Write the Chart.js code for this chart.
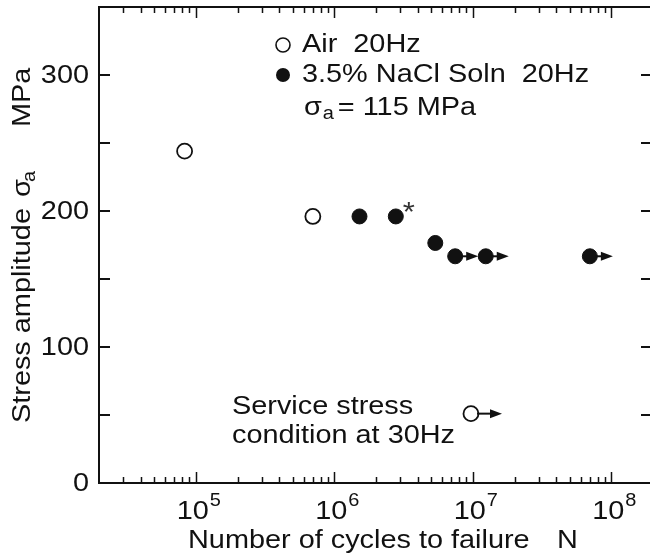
<!DOCTYPE html>
<html>
<head>
<meta charset="utf-8">
<script src="https://cdn.jsdelivr.net/npm/chart.js@4.4.1/dist/chart.umd.min.js"></script>
<style>
  html, body { margin: 0; padding: 0; background: #fff; overflow: hidden; }
  #wrap { width: 654px; height: 557px; }
</style>
</head>
<body>
<div id="wrap"><canvas id="chart" width="654" height="557"></canvas></div>
<script>
// ===== Data =====
const airCycles = [8.3e4, 7.0e5];
const airStress = [244, 196];

const naclCycles = [1.52e6, 2.78e6, 5.36e6, 7.46e6, 1.24e7, 7.0e7];
const naclStress = [196, 196, 176.5, 166.7, 166.7, 166.7];
const naclRunout = [false, false, false, true, true, true];

const serviceCycles = [9.7e6];
const serviceStress = [51];
const serviceRunout = [true];

const xDecades = [1e5, 1e6, 1e7, 1e8];
const xExponents = ["5", "6", "7", "8"];
const yLabelValues = [0, 100, 200, 300];

const FONT = "'Liberation Sans', Arial, Helvetica, sans-serif";
const INK = "#111";
const SX = 1.11; // the original lettering is a bit wider than Arial

function pts(xs, ys) {
  return xs.map((x, i) => ({ x, y: ys[i] }));
}

// draw text stretched horizontally by SX, anchored at (x, y)
function txt(ctx, str, x, y, size, align = "left", base = "alphabetic") {
  ctx.save();
  ctx.translate(x, y);
  ctx.scale(SX, 1);
  ctx.font = size + "px " + FONT;
  ctx.textAlign = align;
  ctx.textBaseline = base;
  ctx.fillText(str, 0, 0);
  ctx.restore();
}
function wid(ctx, str, size) {
  ctx.font = size + "px " + FONT;
  return ctx.measureText(str).width * SX;
}

// ===== Decorations: frame, inward ticks, labels, legend, notes =====
const framePlugin = {
  id: "frame",
  afterDatasetsDraw(chart) {
    const { ctx, chartArea: a, scales } = chart;
    const xs = scales.x, ys = scales.y;
    ctx.save();

    // run-out arrows
    const arrowSets = [
      { meta: chart.getDatasetMeta(1), flags: naclRunout, len: 23 },
      { meta: chart.getDatasetMeta(2), flags: serviceRunout, len: 31 },
    ];
    ctx.strokeStyle = INK;
    ctx.fillStyle = INK;
    ctx.lineWidth = 2;
    arrowSets.forEach((s) => {
      s.meta.data.forEach((el, i) => {
        if (!s.flags[i]) return;
        const tip = el.x + s.len;
        ctx.beginPath();
        ctx.moveTo(el.x + 6, el.y);
        ctx.lineTo(tip - 10, el.y);
        ctx.stroke();
        ctx.beginPath();
        ctx.moveTo(tip, el.y);
        ctx.lineTo(tip - 12, el.y - 4.5);
        ctx.lineTo(tip - 12, el.y + 4.5);
        ctx.closePath();
        ctx.fill();
      });
    });

    // asterisk on the second NaCl point
    const star = chart.getDatasetMeta(1).data[1];
    ctx.fillStyle = "#333";
    txt(ctx, "*", star.x + 7, star.y + 5, 28);

    // frame
    ctx.strokeStyle = INK;
    ctx.lineWidth = 2;
    ctx.beginPath();
    ctx.moveTo(a.left, a.top);
    ctx.lineTo(a.left, a.bottom);
    ctx.lineTo(a.right, a.bottom);
    ctx.lineTo(a.right, a.top);
    ctx.closePath();
    ctx.stroke();

    // x ticks (log, inward, top and bottom)
    ctx.lineWidth = 1.5;
    for (let d = 4; d <= 8; d++) {
      for (let m = 1; m <= 9; m++) {
        const v = m * Math.pow(10, d);
        if (v <= xs.min || v >= xs.max) continue;
        const px = Math.round(xs.getPixelForValue(v)) + 0.5;
        const len = m === 1 ? 11 : 6;
        ctx.beginPath();
        ctx.moveTo(px, a.bottom);
        ctx.lineTo(px, a.bottom - len);
        ctx.moveTo(px, a.top);
        ctx.lineTo(px, a.top + len);
        ctx.stroke();
      }
    }
    // y ticks (inward, left and right)
    ctx.lineWidth = 2;
    for (let v = 50; v < ys.max; v += 50) {
      const py = Math.round(ys.getPixelForValue(v));
      ctx.beginPath();
      ctx.moveTo(a.left, py);
      ctx.lineTo(a.left + 11, py);
      ctx.moveTo(a.right, py);
      ctx.lineTo(a.right - 12, py);
      ctx.stroke();
    }

    ctx.fillStyle = INK;
    // y labels
    yLabelValues.forEach((v) => {
      txt(ctx, String(v), a.left - 10, ys.getPixelForValue(v) + 1, 26, "right", "middle");
    });

    // x labels 10^n
    xDecades.forEach((v, i) => {
      const px = xs.getPixelForValue(v);
      const w10 = wid(ctx, "10", 26);
      const we = wid(ctx, xExponents[i], 18);
      const x0 = px + 3 - (w10 + we + 1) / 2;
      txt(ctx, "10", x0, 519, 26);
      txt(ctx, xExponents[i], x0 + w10 + 1, 506, 18);
    });

    // x title
    txt(ctx, "Number of cycles to failure", 188, 548, 26);
    txt(ctx, "N", 557, 548, 26);

    // y title (rotated)
    ctx.save();
    ctx.translate(30, 0);
    ctx.rotate(-Math.PI / 2);
    txt(ctx, "Stress amplitude", -423, 0, 26);
    txt(ctx, "\u03c3", -197, 0, 26);
    txt(ctx, "a", -182, 5, 18);
    txt(ctx, "MPa", -127, 0, 26);
    ctx.restore();

    // legend
    ctx.lineWidth = 1.6;
    ctx.strokeStyle = INK;
    ctx.beginPath();
    ctx.arc(283, 45, 7, 0, Math.PI * 2);
    ctx.fillStyle = "#fff";
    ctx.fill();
    ctx.stroke();
    ctx.fillStyle = INK;
    ctx.beginPath();
    ctx.arc(283, 75, 7, 0, Math.PI * 2);
    ctx.fill();

    txt(ctx, "Air  20Hz", 302, 45, 26, "left", "middle");
    txt(ctx, "3.5% NaCl Soln  20Hz", 302, 75, 26, "left", "middle");
    const ws = wid(ctx, "\u03c3", 26);
    txt(ctx, "\u03c3", 304, 108, 26, "left", "middle");
    txt(ctx, "a", 304 + ws + 1, 114, 18, "left", "middle");
    txt(ctx, "= 115 MPa", 304 + ws + 16, 108, 26, "left", "middle");

    // service note
    txt(ctx, "Service stress", 232, 407, 26, "left", "middle");
    txt(ctx, "condition at 30Hz", 232, 436, 26, "left", "middle");

    ctx.restore();
  },
};

new Chart(document.getElementById("chart"), {
  type: "scatter",
  data: {
    datasets: [
      {
        label: "Air 20Hz",
        data: pts(airCycles, airStress),
        pointRadius: 7.5,
        pointBackgroundColor: "#fff",
        pointBorderColor: INK,
        pointBorderWidth: 1.8,
      },
      {
        label: "3.5% NaCl Soln 20Hz",
        data: pts(naclCycles, naclStress),
        pointRadius: 7.5,
        pointBackgroundColor: INK,
        pointBorderColor: INK,
        pointBorderWidth: 1,
      },
      {
        label: "Service stress condition at 30Hz",
        data: pts(serviceCycles, serviceStress),
        pointRadius: 7.5,
        pointBackgroundColor: "#fff",
        pointBorderColor: INK,
        pointBorderWidth: 1.8,
      },
    ],
  },
  options: {
    responsive: false,
    animation: false,
    events: [],
    layout: { autoPadding: false, padding: { left: 0, top: 7, right: 1, bottom: 0 } },
    plugins: { legend: { display: false }, tooltip: { enabled: false } },
    scales: {
      x: {
        type: "logarithmic",
        min: 2e4,
        max: 2e8,
        grid: { display: false },
        border: { display: false },
        ticks: { display: false },
        afterFit: (s) => { s.height = 74; s.paddingLeft = 0; s.paddingRight = 0; },
      },
      y: {
        min: 0,
        max: 350,
        grid: { display: false },
        border: { display: false },
        ticks: { display: false, stepSize: 50 },
        afterFit: (s) => { s.width = 99; },
      },
    },
  },
  plugins: [framePlugin],
});
</script>
</body>
</html>
